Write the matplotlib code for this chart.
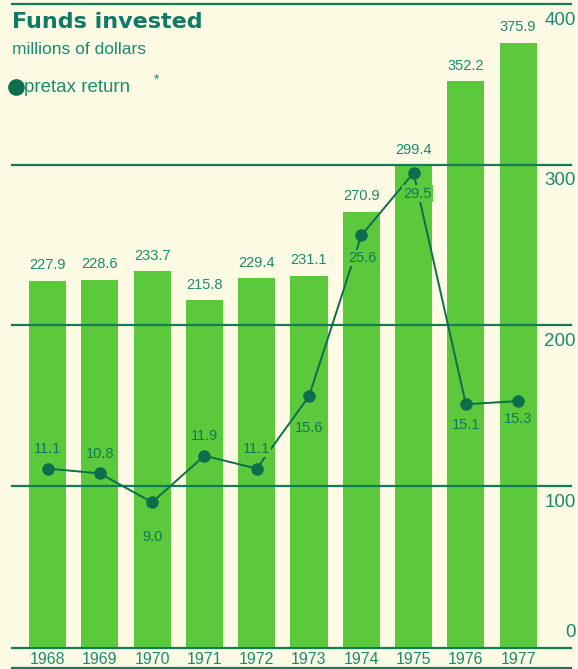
import matplotlib
matplotlib.use("Agg")
import matplotlib.pyplot as plt

years = ["1968", "1969", "1970", "1971", "1972", "1973", "1974", "1975", "1976", "1977"]
funds = [227.9, 228.6, 233.7, 215.8, 229.4, 231.1, 270.9, 299.4, 352.2, 375.9]
pretax = [11.1, 10.8, 9.0, 11.9, 11.1, 15.6, 25.6, 29.5, 15.1, 15.3]
grid_vals = [100, 200, 300, 400]
axis_labels = [0, 100, 200, 300, 400]

BG = "#fdfbe3"
BAR = "#5cc93d"
LINE = "#137a5a"
TEXT = "#1b8a72"
RET_TEXT = "#0f7a55"
DOT = "#0c6e4c"

plt.rcParams['font.family'] = ['Liberation Sans', 'DejaVu Sans']

fig = plt.figure(figsize=(5.78, 6.69), dpi=100, facecolor=BG)
ax = fig.add_axes([0, 0, 1, 1])
ax.set_facecolor(BG)
ax.axis("off")

# pixel mapping: centres at 47.5 + 52.3*i ; 0 at y=647, 400 at y=4
px_per_slot = 52.3
x0 = -47.5 / px_per_slot
x1 = (578 - 47.5) / px_per_slot
ax.set_xlim(x0, x1)
ppu = 643 / 400
ax.set_ylim(-(669 - 647) / ppu, 400 + 4 / ppu)

xs = list(range(len(years)))
ax.bar(xs, funds, width=0.71, color=BAR, zorder=1)

xl = (12 - 47.5) / px_per_slot
xr = (571 - 47.5) / px_per_slot
for g in grid_vals:
    ax.plot([xl, xr], [g, g], color=LINE, lw=1.6, zorder=2)
ax.plot([xl, xr], [-0.5, -0.5], color=LINE, lw=1.6, zorder=2)
ax.plot([xl, xr], [-13.2, -13.2], color=LINE, lw=1.6, zorder=2)

for v in axis_labels:
    yy = 9 if v == 0 else v - 10
    ax.text(576 / px_per_slot + x0, yy, str(v), ha="right", va="center",
            fontsize=13.5, color=TEXT, zorder=4)

# bar value labels
for x, f in zip(xs, funds):
    ax.annotate(f"{f:.1f}", (x, f), xytext=(0, 11), textcoords="offset points",
                ha="center", va="center", fontsize=10.5, color=TEXT, zorder=4)

# pretax return line (scaled x10 onto the funds axis)
ret_y = [p * 10 for p in pretax]
ax.plot(xs, ret_y, color=DOT, lw=1.4, marker="o", markersize=8, zorder=3)
offsets = [(0, 14), (0, 14), (0, -25), (0, 14), (0, 14), (0, -23),
           (1, -16), (3, -15), (0, -15), (0, -13)]
for x, p, y, (dx, dy) in zip(xs, pretax, ret_y, offsets):
    ax.annotate(f"{p:.1f}", (x, y), xytext=(dx, dy), textcoords="offset points",
                ha="center", va="center", fontsize=10.5, color=RET_TEXT, zorder=5,
                bbox=dict(boxstyle="square,pad=0.08", fc=BAR, ec="none"))

# year labels
for x, yr in zip(xs, years):
    ax.text(x, -7.6, yr, ha="center", va="center", fontsize=11.5, color=TEXT, zorder=4)

# title block
fig.text(12 / 578, 1 - 22 / 669, "Funds invested", fontsize=16, fontweight="bold",
         color="#0f7a66", family=["DejaVu Sans"], ha="left", va="center")
fig.text(12 / 578, 1 - 50 / 669, "millions of dollars", fontsize=12.5, color=TEXT,
         ha="left", va="center")
fig.text(24 / 578, 1 - 87 / 669, "pretax return", fontsize=13.5, color=TEXT,
         ha="left", va="center")
fig.text(154 / 578, 1 - 80 / 669, "*", fontsize=10, color=TEXT, ha="left", va="center")
ax.plot([15.5 / 578], [1 - 87 / 669], marker="o", markersize=11, color=DOT,
        transform=fig.transFigure, clip_on=False)

fig.savefig("out.png", dpi=100, facecolor=BG)
